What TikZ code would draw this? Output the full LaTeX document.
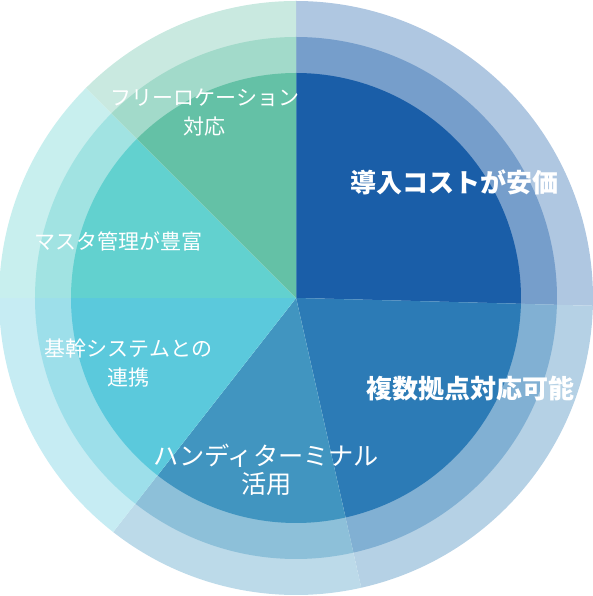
\documentclass[tikz,border=0pt]{standalone}
\usepackage{fontspec}
\newfontfamily\jpfont{Noto Sans CJK JP}
\definecolor{costblue}{HTML}{1A5EA8}
\definecolor{multiblue}{HTML}{2C7BB6}
\definecolor{handyblue}{HTML}{4195C0}
\definecolor{corecyan}{HTML}{5BC9DC}
\definecolor{mastercyan}{HTML}{62D1CF}
\definecolor{freegreen}{HTML}{64C1A6}

\begin{document}
\begin{tikzpicture}[x=1pt, y=1pt,
    txt/.style={text=white, align=center, inner sep=0pt,
        font=\jpfont\fontsize{21}{29}\selectfont},
    bigtxt/.style={txt, font=\jpfont\bfseries\fontsize{26}{30}\selectfont}]
    \useasboundingbox (-296,-298) rectangle (296,298);
    % wedges: outer ring, middle ring, solid core
    \foreach \a/\b/\col in {90/-1.5/costblue, -1.5/-77.3/multiblue,
        -77.3/-128/handyblue, -128/-180/corecyan,
        180/135/mastercyan, 135/90/freegreen}{
        \fill[\col!35!white] (0,0) -- (\a:297) arc[start angle=\a, end angle=\b, radius=297] -- cycle;
        \fill[\col!60!white] (0,0) -- (\a:261) arc[start angle=\a, end angle=\b, radius=261] -- cycle;
        \fill[\col] (0,0) -- (\a:225) arc[start angle=\a, end angle=\b, radius=225] -- cycle;
    }
    \node[bigtxt] (cost) at (158.5,116) {導入コストが安価};
    \node[bigtxt] (multi) at (174.5,-91) {複数拠点対応可能};
    \node[txt, font=\jpfont\fontsize{25.2}{28}\selectfont] (handy) at (-29.5,-172) {ハンディターミナル\\活用};
    \node[txt] (core) at (-167.5,-65.5) {基幹システムとの\\連携};
    \node[txt] (master) at (-177,57) {マスタ管理が豊富};
    \node[txt] (free) at (-91,185.5) {フリーロケーション\\対応};
\end{tikzpicture}
\end{document}
